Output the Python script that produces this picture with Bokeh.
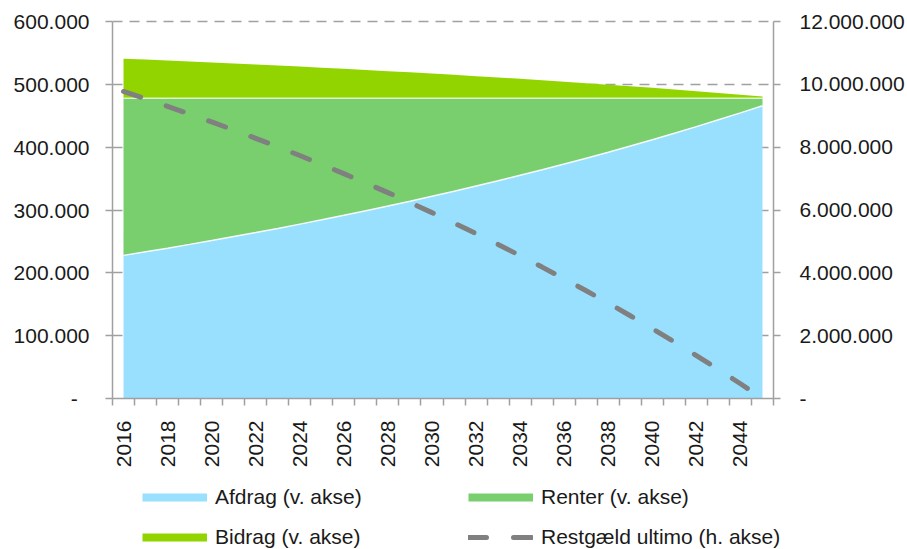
import math
import numpy as np
from bokeh.plotting import figure
from bokeh.layouts import column
from bokeh.models import Range1d, LinearAxis, FixedTicker, Legend, LegendItem
from bokeh.embed import file_html
from bokeh.resources import INLINE

# Yearly payments on the loan (kr.)
years = list(range(2016, 2046))
afdrag = [227800, 233500, 239300, 245300, 251400, 257700, 264100, 270700, 277500, 284400,
          291500, 298800, 306300, 313900, 321800, 329800, 338100, 346500, 355200, 364000,
          373100, 382500, 392000, 401800, 411900, 422200, 432700, 443500, 454600, 466000]
renter = [250000, 244300, 238500, 232500, 226400, 220100, 213700, 207100, 200300, 193400,
          186300, 179000, 171500, 163900, 156000, 148000, 139700, 131300, 122600, 113800,
          104700, 95300, 85800, 76000, 65900, 55600, 45100, 34300, 23200, 11800]
bidrag = [63000, 61600, 60100, 58600, 57000, 55500, 53800, 52200, 50500, 48700,
          46900, 45100, 43200, 41300, 39300, 37300, 35200, 33100, 30900, 28600,
          26400, 24000, 21600, 19100, 16600, 14000, 11300, 8600, 5800, 3000]
restgaeld = [9772000, 9539000, 9300000, 9055000, 8803000, 8546000, 8282000, 8011000, 7734000, 7449000,
             7158000, 6859000, 6553000, 6239000, 5917000, 5587000, 5249000, 4903000, 4547000, 4183000,
             3810000, 3428000, 3036000, 2634000, 2222000, 1800000, 1367000, 924000, 469000, 3000]

# Axis ticks and labels
left_ticks = [0, 100000, 200000, 300000, 400000, 500000, 600000]
left_labels = ["-\u00a0\u00a0", "100.000", "200.000", "300.000", "400.000", "500.000", "600.000"]
right_ticks = [0, 2000000, 4000000, 6000000, 8000000, 10000000, 12000000]
right_labels = ["-", "2.000.000", "4.000.000", "6.000.000", "8.000.000", "10.000.000", "12.000.000"]
year_ticks = list(range(2016, 2045, 2))
year_labels = [str(y) for y in year_ticks]

series_names = ["Afdrag (v. akse)", "Renter (v. akse)", "Bidrag (v. akse)", "Restgæld ultimo (h. akse)"]
colors = ["#99E0FF", "#79CE6D", "#92D400", "#808080"]

FONT = "Liberation Sans"
FONT_SIZE = "21px"
TEXT = "#1a1a1a"
AXIS = "#A0A0A0"
DEBT_DASH = "18 27"

# a little headroom above the top tick so its gridline is not clipped
FRAME_H = 379
TOP_PX = 377
left_end = left_ticks[-1] * FRAME_H / TOP_PX
right_end = right_ticks[-1] * FRAME_H / TOP_PX

p = figure(width=907, height=471, x_range=Range1d(2015.5, 2045.5), y_range=Range1d(0, left_end),
           output_backend="svg", toolbar_location=None, frame_align=False,
           min_border_left=112, min_border_right=134, min_border_top=19, min_border_bottom=73,
           outline_line_color=None, background_fill_color="white", border_fill_color="white")
p.extra_y_ranges = {"right": Range1d(0, right_end)}

# stacked areas
x = np.array(years)
a = np.array(afdrag)
r = a + np.array(renter)
b = r + np.array(bidrag)
p.varea(x=x, y1=0, y2=a, fill_color=colors[0])
p.varea(x=x, y1=a, y2=r, fill_color=colors[1])
p.varea(x=x, y1=r, y2=b, fill_color=colors[2])
p.line(x, a, line_color="white", line_width=1.5, line_alpha=0.9)
p.line(x, r, line_color="white", line_width=1.5, line_alpha=0.7)

# outstanding debt on the right axis
p.line(x, restgaeld, y_range_name="right", line_color=colors[3], line_width=5,
       line_dash=DEBT_DASH, line_cap="round")

# bottom axis: labels on even years, tick marks between categories
xa = p.xaxis[0]
xa.ticker = FixedTicker(ticks=year_ticks, minor_ticks=[y - 0.5 for y in years] + [years[-1] + 0.5])
xa.major_label_overrides = {t: l for t, l in zip(year_ticks, year_labels)}
xa.major_tick_out = 0
xa.major_tick_in = 0
xa.minor_tick_out = 7
xa.minor_tick_in = 0
xa.major_label_orientation = math.pi / 2
xa.major_label_standoff = 15

ya = p.yaxis[0]
ya.ticker = FixedTicker(ticks=left_ticks)
ya.major_label_overrides = {t: l for t, l in zip(left_ticks, left_labels)}
ya.major_tick_out = 7
ya.major_tick_in = 0
ya.minor_tick_out = 0
ya.minor_tick_in = 0
ya.major_label_standoff = 16

ra = LinearAxis(y_range_name="right", ticker=FixedTicker(ticks=right_ticks))
ra.major_label_overrides = {t: l for t, l in zip(right_ticks, right_labels)}
ra.major_tick_out = 7
ra.major_tick_in = 0
ra.minor_tick_out = 0
ra.minor_tick_in = 0
ra.major_label_standoff = 19
p.add_layout(ra, "right")

for ax in [xa, ya, ra]:
    ax.axis_line_color = AXIS
    ax.axis_line_width = 1.5
    ax.major_tick_line_color = AXIS
    ax.major_tick_line_width = 1.5
    ax.minor_tick_line_color = AXIS
    ax.minor_tick_line_width = 1.5
    ax.major_label_text_font = FONT
    ax.major_label_text_font_size = FONT_SIZE
    ax.major_label_text_color = TEXT
ya.bounds = (left_ticks[0], left_ticks[-1])
ra.bounds = (right_ticks[0], right_ticks[-1])

p.xgrid.visible = False
p.ygrid.ticker = FixedTicker(ticks=left_ticks)
p.ygrid.grid_line_color = AXIS
p.ygrid.grid_line_width = 1.5
p.ygrid.grid_line_dash = "10 7"

# legend strip under the chart; the swatch renderers hold a single empty point
lg = figure(width=907, height=78, output_backend="svg", toolbar_location=None, frame_align=False,
            x_range=Range1d(0, 1), y_range=Range1d(0, 1),
            x_axis_location=None, y_axis_location=None,
            min_border_left=0, min_border_right=0, min_border_top=0, min_border_bottom=0,
            outline_line_color=None, background_fill_color="white", border_fill_color="white")
lg.xgrid.visible = False
lg.ygrid.visible = False
nan = [float("nan")]
swatches = [
    lg.line(nan, nan, line_color=colors[0], line_width=8),
    lg.line(nan, nan, line_color=colors[1], line_width=8),
    lg.line(nan, nan, line_color=colors[2], line_width=8),
    lg.line(nan, nan, line_color=colors[3], line_width=5, line_dash=DEBT_DASH, line_cap="round"),
]
legend = Legend(items=[LegendItem(label=n, renderers=[s]) for n, s in zip(series_names, swatches)],
                location=(142, 0), orientation="horizontal", ncols=2,
                glyph_width=65, glyph_height=24, label_height=24, label_width=237,
                label_standoff=8, spacing=16, padding=0, margin=0,
                border_line_color=None, background_fill_alpha=0,
                label_text_font=FONT, label_text_font_size=FONT_SIZE, label_text_color=TEXT)
lg.add_layout(legend, "center")

page = column(p, lg, spacing=0)
open("out.html", "w").write(file_html(page, INLINE))
